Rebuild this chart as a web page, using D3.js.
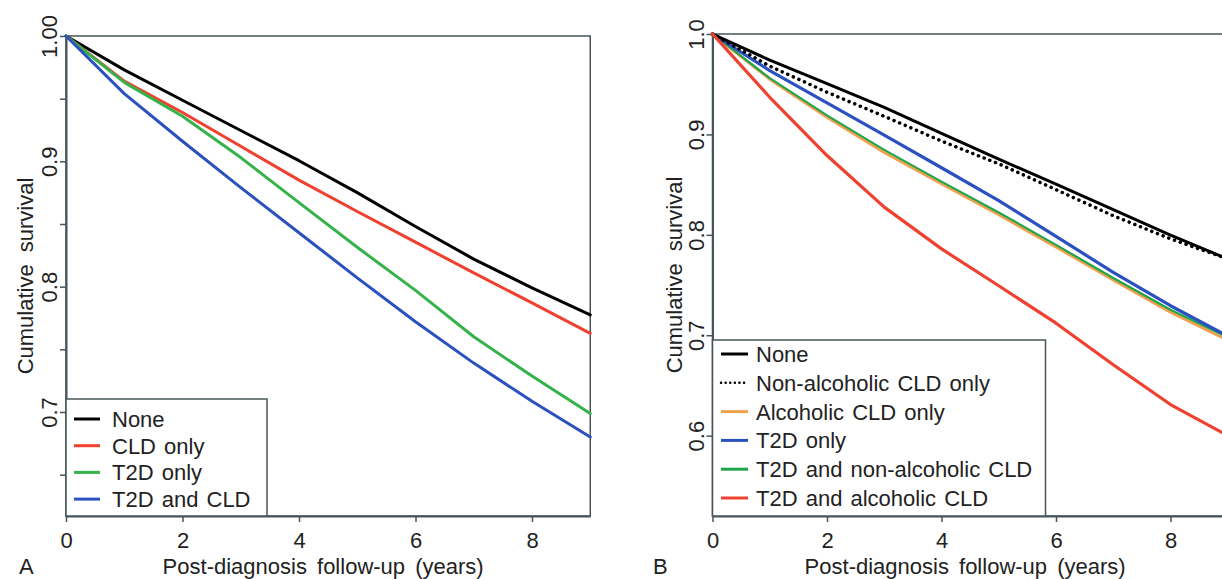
<!DOCTYPE html>
<html>
<head>
<meta charset="utf-8">
<script src="https://cdn.jsdelivr.net/npm/d3@7"></script>
<style>
body { margin: 0; background: #fff; }
text { font-family: "Liberation Sans", Arial, sans-serif; fill: #222; }
</style>
</head>
<body>
<svg width="1222" height="579"></svg>
<script>
// follow-up years
var years = [0, 1, 2, 3, 4, 5, 6, 7, 8, 9];

// panel A
var namesA = ["None", "CLD only", "T2D only", "T2D and CLD"];
var a_none = [1, 0.973, 0.9487, 0.9246, 0.9005, 0.875, 0.848, 0.822, 0.799, 0.7775];
var a_cld = [1, 0.964, 0.939, 0.912, 0.885, 0.860, 0.8355, 0.811, 0.787, 0.7627];
var a_t2d = [1, 0.963, 0.936, 0.903, 0.867, 0.8314, 0.797, 0.760, 0.7287, 0.6987];
var a_both = [1, 0.954, 0.916, 0.879, 0.843, 0.807, 0.772, 0.739, 0.7085, 0.680];
var colorsA = ["#000000", "#f0402f", "#35b34a", "#2b50c0"];

// panel B
var namesB = ["None", "Non-alcoholic  CLD only", "Alcoholic  CLD only", "T2D only",
  "T2D and non-alcoholic  CLD", "T2D and alcoholic  CLD"];
var b_none = [1, 0.974, 0.9506, 0.927, 0.901, 0.8754, 0.8505, 0.825, 0.7998, 0.776];
var b_nonalc = [1, 0.968, 0.942, 0.918, 0.8934, 0.8707, 0.845, 0.819, 0.796, 0.776];
var b_alc = [1, 0.955, 0.917, 0.882, 0.851, 0.820, 0.788, 0.755, 0.723, 0.695];
var b_t2d = [1, 0.9636, 0.9314, 0.8993, 0.8668, 0.834, 0.7984, 0.7627, 0.7294, 0.699];
var b_t2dnonalc = [1, 0.956, 0.919, 0.8846, 0.853, 0.8223, 0.790, 0.757, 0.7254, 0.698];
var b_t2dalc = [1, 0.937, 0.879, 0.8276, 0.786, 0.7493, 0.712, 0.6707, 0.631, 0.600];
var colorsB = ["#000000", "#000000", "#f2a04e", "#2b50c0", "#1fa64c", "#f0402f"];

var xTicks = [0, 2, 4, 6, 8];
var yTicksA = [0.65, 0.7, 0.75, 0.8, 0.85, 0.9, 0.95, 1.0];
var yLabelsA = {"0.7": "0.7", "0.8": "0.8", "0.9": "0.9", "1": "1.00"};
var yTicksB = [0.6, 0.7, 0.8, 0.9, 1.0];
var yLabelsB = {"0.6": "0.6", "0.7": "0.7", "0.8": "0.8", "0.9": "0.9", "1": "1.0"};

var svg = d3.select("svg");
var axisColor = "#47555a";

function panel(opt) {
  var g = svg.append("g");
  var x = d3.scaleLinear().domain([0, 9]).range([opt.left, opt.right]);
  var y = d3.scaleLinear().domain([opt.ymin, 1]).range([opt.bottom, opt.top]);

  // plot frame
  g.append("rect")
    .attr("x", opt.left).attr("y", opt.top)
    .attr("width", opt.right - opt.left).attr("height", opt.bottom - opt.top)
    .attr("fill", "none").attr("stroke", axisColor).attr("stroke-width", 1.5)

  var xa = g.append("g")
    .attr("transform", "translate(0," + opt.bottom + ")")
    .call(d3.axisBottom(x).tickValues(xTicks).tickSize(6).tickSizeOuter(0).tickFormat(d3.format("d")))
  xa.select(".domain").attr("stroke", axisColor).attr("stroke-width", 2)
  xa.selectAll(".tick line").attr("stroke", axisColor).attr("stroke-width", 1.5)
  xa.selectAll(".tick text")
    .attr("y", 32).attr("dy", 0)
    .style("font-size", "22px").style("font-family", "Liberation Sans, Arial, sans-serif").attr("fill", "#222")

  var ya = g.append("g")
    .attr("transform", "translate(" + opt.left + ",0)")
    .call(d3.axisLeft(y).tickValues(opt.yTicks).tickSize(6).tickSizeOuter(0)
      .tickFormat(d => opt.yLabels[String(+d.toFixed(2))] || ""))
  ya.select(".domain").attr("stroke", axisColor).attr("stroke-width", 2)
  ya.selectAll(".tick line").attr("stroke", axisColor).attr("stroke-width", 1.5)
  ya.selectAll(".tick text")
    .attr("transform", "rotate(-90)")
    .attr("x", 0).attr("y", -9).attr("dy", 0)
    .attr("text-anchor", "middle")
    .style("font-size", "22px").style("font-family", "Liberation Sans, Arial, sans-serif").attr("fill", "#222")

  // curves
  var line = d3.line().x((d, i) => x(years[i])).y(d => y(d));
  opt.series.forEach(function (s) {
    g.append("path")
      .datum(s.values)
      .attr("d", line)
      .attr("fill", "none")
      .attr("stroke", s.color)
      .attr("stroke-width", s.width)
      .attr("stroke-linejoin", "round")
      .attr("stroke-linecap", "round")
      .attr("stroke-dasharray", s.dash || null)
  });

  // titles
  g.append("text")
    .attr("x", (opt.left + opt.right) / 2 - 5).attr("y", 574)
    .attr("text-anchor", "middle")
    .style("font-size", "22px").style("word-spacing", "4px")
    .text("Post-diagnosis follow-up (years)")
  g.append("text")
    .attr("transform", "translate(" + opt.ytitleX + "," + ((opt.top + opt.bottom) / 2) + ") rotate(-90)")
    .attr("text-anchor", "middle")
    .style("font-size", "22px").style("word-spacing", "6px")
    .text("Cumulative survival")
  g.append("text")
    .attr("x", opt.labelX).attr("y", 574)
    .style("font-size", "22px")
    .text(opt.label)

  // legend
  var lg = g.append("g")
  lg.append("rect")
    .attr("x", opt.left).attr("y", opt.legend.top)
    .attr("width", opt.legend.width).attr("height", opt.bottom - opt.legend.top)
    .attr("fill", "#fff").attr("stroke", axisColor).attr("stroke-width", 1.5)
  opt.legendOrder.forEach(function (s, i) {
    var yy = opt.legend.first + i * opt.legend.step;
    lg.append("line")
      .attr("x1", opt.legend.x1).attr("x2", opt.legend.x2)
      .attr("y1", yy).attr("y2", yy)
      .attr("stroke", s.color)
      .attr("stroke-width", s.dash ? 2.5 : 3)
      .attr("stroke-linecap", s.dash ? "round" : "butt")
      .attr("stroke-dasharray", s.dash ? "0.1,4.5" : null)
    lg.append("text")
      .attr("x", opt.legend.tx).attr("y", yy + 8)
      .style("font-size", "22px").style("word-spacing", "2px")
      .text(s.name)
  });
}

var seriesA = [a_none, a_cld, a_t2d, a_both].map((v, i) => ({
  name: namesA[i], values: v, color: colorsA[i], width: 3
}));

var bVals = [b_none, b_nonalc, b_alc, b_t2d, b_t2dnonalc, b_t2dalc];
var bWidth = [3, 3.5, 3, 3.2, 2.2, 3.2];
var seriesB = bVals.map((v, i) => ({
  name: namesB[i], values: v, color: colorsB[i], width: bWidth[i],
  dash: i == 1 ? "0.1,6" : null
}));
// draw order: orange under green
var drawB = [seriesB[2], seriesB[4], seriesB[3], seriesB[1], seriesB[0], seriesB[5]];

panel({
  left: 66, right: 590.25, top: 36, bottom: 516, ymin: 0.617,
  yTicks: yTicksA, yLabels: yLabelsA, series: seriesA, legendOrder: seriesA,
  ytitleX: 33, label: "A", labelX: 19,
  legend: {top: 399, width: 201, first: 419, step: 26.7, x1: 74, x2: 100, tx: 112}
});

panel({
  left: 712.5, right: 1227.75, top: 34, bottom: 516, ymin: 0.52,
  yTicks: yTicksB, yLabels: yLabelsB, series: drawB, legendOrder: seriesB,
  ytitleX: 682, label: "B", labelX: 653,
  legend: {top: 340, width: 333, first: 354, step: 28.8, x1: 721, x2: 748, tx: 756}
});
</script>
</body>
</html>
